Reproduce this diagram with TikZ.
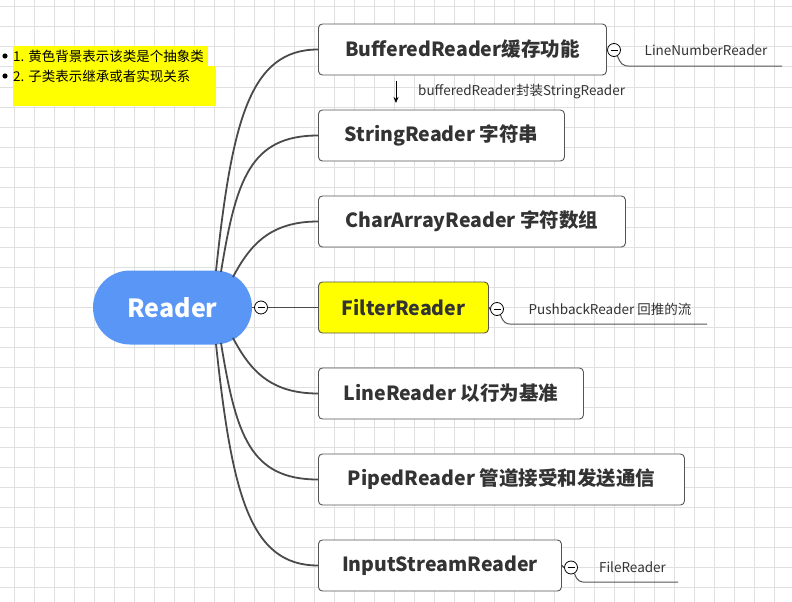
\documentclass[tikz,border=0pt]{standalone}
\usepackage{fontspec}
\setmainfont{Noto Sans CJK SC}
\usetikzlibrary{arrows.meta}
\definecolor{gridc}{HTML}{E0E0E0}
\definecolor{boxc}{HTML}{555555}
\definecolor{txtc}{HTML}{333333}
\definecolor{linec}{HTML}{4A4A4A}
\definecolor{pillc}{HTML}{5A96F6}
\definecolor{hl}{HTML}{FFFF00}
\tikzset{
  box/.style={draw=boxc, line width=0.9pt, rounded corners=4pt, fill=white,
    minimum height=51pt, inner sep=0pt, anchor=west, text=txtc,
    font=\bfseries\fontsize{19.5}{20}\selectfont},
  pill/.style={fill=pillc, rounded corners=37pt, minimum width=159pt,
    minimum height=74pt, inner sep=0pt, text=white,
    font=\bfseries\fontsize{25}{26}\selectfont},
  tog/.style={circle, draw=black, fill=white, minimum size=13pt, inner sep=0pt, line width=0.8pt},
  sublabel/.style={inner sep=0pt, text=txtc, font=\fontsize{13.5}{14}\selectfont},
  branch/.style={draw=linec, line width=1.8pt},
  thinbranch/.style={draw=linec, line width=1.3pt},
  subline/.style={draw=boxc, line width=1pt},
  notetext/.style={inner sep=0pt, anchor=west, text=black, font=\fontsize{13.5}{14}\selectfont}
}
\newcommand{\togminus}[1]{\draw[line width=0.9pt] ([xshift=-3.5pt]#1.center) -- ([xshift=3.5pt]#1.center);}
\begin{document}
\begin{tikzpicture}[x=1pt,y=-1pt]
\useasboundingbox (0,0) rectangle (792,602);
\fill[white] (0,0) rectangle (792,602);
\foreach \x in {14,34,...,794} \draw[gridc, line width=1pt] (\x,0) -- (\x,602);
\foreach \y in {7,27,...,600} \draw[gridc, line width=1pt] (0,\y) -- (792,\y);

% note
\fill[hl] (13,46) rectangle (208,66);
\fill[hl] (13,66) rectangle (216,106);
\fill[black] (5,56) circle (2.6);
\fill[black] (5,76) circle (2.6);
\node[notetext] (n1) at (13,56) {1. 黄色背景表示该类是个抽象类};
\node[notetext] (n2) at (13,76) {2. 子类表示继承或者实现关系};

% central node
\node[pill] (reader) at (172.5,307.5) {Reader};

% boxes
\node[box, minimum width=288pt] (buf) at (318,49.5) {BufferedReader缓存功能};
\node[box, minimum width=246pt] (str) at (318,135.5) {StringReader 字符串};
\node[box, minimum width=307pt] (chr) at (318,221.5) {CharArrayReader 字符数组};
\node[box, minimum width=170pt, fill=hl] (flt) at (318,307.5) {FilterReader};
\node[box, minimum width=265pt] (lin) at (318,393.5) {LineReader 以行为基准};
\node[box, minimum width=366pt] (pip) at (318,479.5) {PipedReader 管道接受和发送通信};
\node[box, minimum width=243pt] (inp) at (318,565.5) {InputStreamReader};

% start points on the pill
\coordinate (s1) at (216,271);
\coordinate (s2) at (221,272);
\coordinate (s3) at (233,277);
\coordinate (s5) at (233,338);
\coordinate (s6) at (221,343);
\coordinate (s7) at (216,344);

\draw[branch] (s1) .. controls (232,120) and (250,49.5) .. (buf.west);
\draw[branch] (s2) .. controls (236,180) and (250,135.5) .. (str.west);
\draw[branch] (s3) .. controls (250,245) and (270,221.5) .. (chr.west);
\draw[branch] (s5) .. controls (250,370) and (270,393.5) .. (lin.west);
\draw[branch] (s6) .. controls (236,435) and (250,479.5) .. (pip.west);
\draw[branch] (s7) .. controls (232,495) and (250,565.5) .. (inp.west);

% filter branch with toggle
\node[tog] (t0) at (261,307.5) {};
\togminus{t0}
\draw[branch] (reader.east) -- (t0.west);
\draw[branch] (t0.east) -- (flt.west);

% arrow
\coordinate (a1) at (396,81);
\coordinate (a2) at (396,103);
\draw[black, line width=1pt, -{Stealth[length=6pt,width=5pt]}] (a1) -- (a2);
\node[notetext, text=txtc] (alab) at (418,92) {bufferedReader封装StringReader};

% sub topics
\node[tog] (t1) at (614,50) {};
\togminus{t1}
\draw[thinbranch] (buf.east) -- (t1.west);
\node[sublabel, minimum width=152pt, minimum height=32pt] (lnr) at (706,50) {LineNumberReader};
\draw[subline] (t1.-60) .. controls +(3,8) and +(-7,0) .. (lnr.south west) -- (lnr.south east);

\node[tog] (t2) at (497,309) {};
\togminus{t2}
\draw[thinbranch] (flt.east) -- (t2.west);
\node[sublabel, minimum width=194pt, minimum height=30pt] (pbr) at (610,309) {PushbackReader 回推的流};
\draw[subline] (t2.-60) .. controls +(3,8) and +(-7,0) .. (pbr.south west) -- (pbr.south east);

\node[tog] (t3) at (571,567.5) {};
\togminus{t3}
\draw[thinbranch] (inp.east) -- (t3.west);
\node[sublabel, minimum width=91pt, minimum height=29pt] (frd) at (632.5,567.5) {FileReader};
\draw[subline] (t3.-60) .. controls +(3,8) and +(-7,0) .. (frd.south west) -- (frd.south east);
\end{tikzpicture}
\end{document}
